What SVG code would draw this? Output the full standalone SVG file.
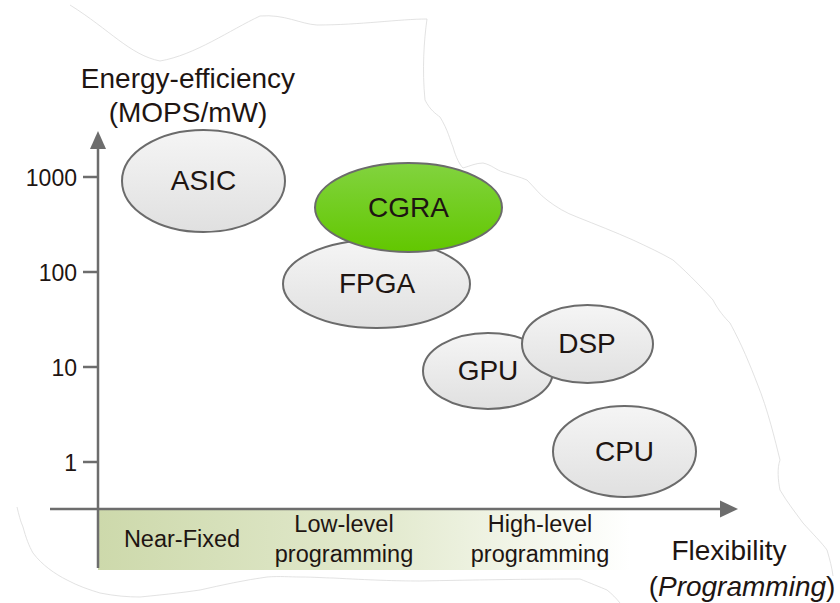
<svg xmlns="http://www.w3.org/2000/svg" width="840" height="603" viewBox="0 0 840 603">
  <defs>
    <linearGradient id="nodeFill" x1="0" y1="0" x2="0" y2="1">
      <stop offset="0" stop-color="#f5f5f5"/>
      <stop offset="1" stop-color="#e0e0e0"/>
    </linearGradient>
    <linearGradient id="cgraFill" x1="0" y1="0" x2="0" y2="1">
      <stop offset="0" stop-color="#82d33f"/>
      <stop offset="1" stop-color="#62c700"/>
    </linearGradient>
    <linearGradient id="bandFill" x1="98" y1="0" x2="630" y2="0" gradientUnits="userSpaceOnUse">
      <stop offset="0" stop-color="#cdd9ab"/>
      <stop offset="0.55" stop-color="#e3eacf"/>
      <stop offset="1" stop-color="#ffffff"/>
    </linearGradient>
  </defs>
  <style>
    .lbl { font-family: "Liberation Sans", Arial, sans-serif; fill: #1e1512; text-anchor: middle; }
    .node ellipse { fill: url(#nodeFill); stroke: #6b6b6b; stroke-width: 2; }
    .node text { font-size: 28px; }
    .axis { stroke: #6d6d6d; stroke-width: 2.5; fill: none; }
    .head { fill: #6d6d6d; }
    .tick { font-size: 23px; text-anchor: end; }
    .band { font-size: 23.5px; }
    .title { font-size: 28px; }
    .edge { fill: none; stroke: #dadada; stroke-width: 0.8; }
  </style>

  <rect width="840" height="603" fill="#ffffff"/>

  <!-- torn-paper outline -->
  <path class="edge" d="M70,5 C110,30 130,55 160,61 C195,55 230,30 260,16 C285,14 300,24 317,25 C360,25 400,19 427,19 C424,40 422,70 425,100 C430,110 436,114 440,117 C448,130 450,140 453,147 C456,158 460,165 463,168 C470,166 476,163 483,163 C492,165 496,170 503,172 C512,175 520,177 527,180 C535,188 540,195 547,200 C556,207 566,213 577,217 C597,225 615,232 633,240 C648,247 661,253 673,260 C690,275 704,290 713,300 C718,310 725,318 730,323 C742,345 750,365 757,383 C768,410 775,440 780,460 C777,468 778,480 780,490 C787,502 795,512 803,523 C812,533 822,543 827,550 C830,560 832,568 833,576"/>
  <path class="edge" d="M17,507 C19,515 20,520 23,527 C26,538 29,546 33,553 C42,565 55,574 67,580 C78,586 90,590 100,593 C115,596 128,597 140,597 C160,595 180,593 200,590 C222,585 245,580 267,577 C280,576 290,577 300,577 C315,577 325,578 333,578 C370,580 395,581 420,581 C470,580 530,579 580,579 C590,583 600,587 607,590 C612,594 616,598 620,603"/>

  <!-- flexibility band -->
  <rect x="98" y="509" width="535" height="61" fill="url(#bandFill)"/>

  <g id="axes">
    <line class="axis" x1="98" y1="568" x2="98" y2="146"/>
    <polygon class="head" points="98,131 90,149 106,149"/>
    <line class="axis" x1="50" y1="509" x2="722" y2="509"/>
    <polygon class="head" points="738,509 720,500.5 720,517.5"/>
    <line class="axis" x1="83" y1="177" x2="98" y2="177"/>
    <line class="axis" x1="83" y1="272" x2="98" y2="272"/>
    <line class="axis" x1="83" y1="367" x2="98" y2="367"/>
    <line class="axis" x1="83" y1="462" x2="98" y2="462"/>
  </g>

  <g id="tick-labels">
    <text class="lbl tick" x="77" y="185.5">1000</text>
    <text class="lbl tick" x="77" y="280.5">100</text>
    <text class="lbl tick" x="77" y="375.5">10</text>
    <text class="lbl tick" x="77" y="470.5">1</text>
  </g>

  <g id="axis-titles">
    <text class="lbl title" x="188" y="88">Energy-efficiency</text>
    <text class="lbl title" x="188" y="122">(MOPS/mW)</text>
    <text class="lbl title" x="729" y="560">Flexibility</text>
    <text class="lbl title" x="742" y="596">(<tspan font-style="italic">Programming</tspan>)</text>
  </g>

  <g id="band-labels">
    <text class="lbl band" x="182" y="547">Near-Fixed</text>
    <text class="lbl band" x="344" y="532">Low-level</text>
    <text class="lbl band" x="344" y="562">programming</text>
    <text class="lbl band" x="540" y="532">High-level</text>
    <text class="lbl band" x="540" y="562">programming</text>
  </g>

  <g id="asic" class="node">
    <ellipse cx="203.5" cy="181" rx="81.5" ry="51"/>
    <text class="lbl" x="203.5" y="190">ASIC</text>
  </g>
  <g id="fpga" class="node">
    <ellipse cx="376.5" cy="284" rx="93.5" ry="44"/>
    <text class="lbl" x="377" y="293">FPGA</text>
  </g>
  <g id="cgra" class="node">
    <ellipse cx="408.5" cy="207.5" rx="93.5" ry="44.5" style="fill:url(#cgraFill)"/>
    <text class="lbl" x="408.5" y="217">CGRA</text>
  </g>
  <g id="gpu" class="node">
    <ellipse cx="488" cy="371" rx="65" ry="38"/>
    <text class="lbl" x="488" y="380">GPU</text>
  </g>
  <g id="dsp" class="node">
    <ellipse cx="587.5" cy="344" rx="65.5" ry="39"/>
    <text class="lbl" x="587" y="353">DSP</text>
  </g>
  <g id="cpu" class="node">
    <ellipse cx="624.5" cy="451.5" rx="71.5" ry="45.5"/>
    <text class="lbl" x="624.5" y="461">CPU</text>
  </g>

  <g id="connectors"/>
</svg>
